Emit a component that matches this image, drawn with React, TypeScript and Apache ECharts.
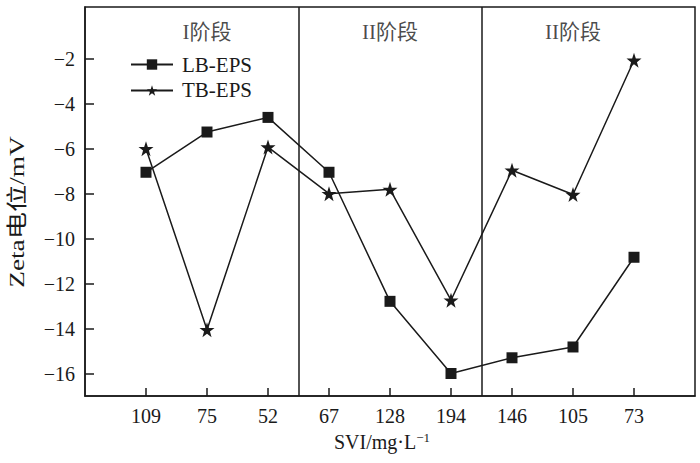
import React, { useEffect, useRef } from "react";
import * as echarts from "echarts";

const categories = ["109", "75", "52", "67", "128", "194", "146", "105", "73"];
const lbEps = [-7.05, -5.26, -4.61, -7.05, -12.79, -16.0, -15.3, -14.82, -10.83];
const tbEps = [-6.0, -14.05, -5.93, -8.0, -7.81, -12.74, -6.96, -8.04, -2.07];
const yTicks = [-16, -14, -12, -10, -8, -6, -4, -2];
const stageLabels = ["I阶段", "II阶段", "II阶段"];
const stageCenters = [2, 5, 8];
const stageBounds = [3.5, 6.5];

const STAR =
  "path://M50,0 L61.8,35.1 L98.1,35.1 L68.9,56.8 L79.4,91 L50,70 L20.6,91 L31.1,56.8 L1.9,35.1 L38.2,35.1 Z";
const FONT = "'Liberation Serif', 'Times New Roman', 'Noto Sans CJK SC', serif";
const INK = "#1a1a1a";

export default function App() {
  const ref = useRef<HTMLDivElement>(null);
  useEffect(() => {
    if (!ref.current) return;
    const chart = echarts.init(ref.current, null, { renderer: "svg" });
    const xs = categories.map((_, i) => i + 1);
    chart.setOption({
      animation: false,
      backgroundColor: "#ffffff",
      textStyle: { fontFamily: FONT, color: INK },
      grid: {
        left: 85,
        right: 5,
        top: 7,
        bottom: 67,
        show: true,
        borderColor: INK,
        borderWidth: 1.5,
      },
      legend: {
        orient: "vertical",
        left: 125,
        top: 49,
        itemWidth: 42,
        itemHeight: 13,
        itemGap: 5,
        textStyle: { fontFamily: FONT, fontSize: 21, color: INK, padding: [0, 0, 0, 4] },
        data: ["LB-EPS", "TB-EPS"],
      },
      graphic: [
        {
          type: "text",
          x: 17,
          y: 212,
          rotation: Math.PI / 2,
          scaleX: 1.3,
          style: {
            text: "Zeta电位/mV",
            font: `21px ${FONT}`,
            fill: INK,
            align: "center",
            verticalAlign: "middle",
          },
        },
        {
          type: "text",
          x: 382,
          y: 442,
          style: {
            text: "{a|SVI/mg·L}{s|−1}",
            align: "center",
            verticalAlign: "middle",
            rich: {
              a: { fontFamily: FONT, fontSize: 20, fill: INK },
              s: { fontFamily: FONT, fontSize: 13, fill: INK, verticalAlign: "top", padding: [0, 0, 10, 0] },
            },
          },
        },
      ],
      xAxis: {
        type: "value",
        min: 0,
        max: 10,
        axisLine: { show: true, onZero: false, lineStyle: { color: INK, width: 1.5 } },
        axisTick: { show: true, inside: true, length: 8, customValues: xs, lineStyle: { color: INK, width: 1.5 } },
        axisLabel: {
          customValues: xs,
          margin: 10,
          fontFamily: FONT,
          fontSize: 20,
          color: INK,
          formatter: (v: number) => categories[Math.round(v) - 1] ?? "",
        },
        splitLine: { show: false },
      },
      yAxis: {
        type: "value",
        min: -17,
        max: 0.3,
        axisLine: { show: true, onZero: false, lineStyle: { color: INK, width: 1.5 } },
        axisTick: { show: true, inside: true, length: 9, customValues: yTicks, lineStyle: { color: INK, width: 1.5 } },
        axisLabel: {
          customValues: yTicks,
          margin: 10,
          fontFamily: FONT,
          fontSize: 20,
          color: INK,
          formatter: (v: number) => (v < 0 ? "−" + Math.abs(v) : String(v)),
        },
        splitLine: { show: false },
      },
      series: [
        {
          name: "LB-EPS",
          type: "line",
          data: lbEps.map((v, i) => [xs[i], v]),
          symbol: "rect",
          symbolSize: 11,
          itemStyle: { color: INK },
          lineStyle: { color: INK, width: 1.5 },
          markLine: {
            silent: true,
            symbol: "none",
            label: { show: false },
            lineStyle: { color: INK, type: "solid", width: 1.5 },
            data: stageBounds.map((b) => ({ xAxis: b })),
          },
        },
        {
          name: "TB-EPS",
          type: "line",
          data: tbEps.map((v, i) => [xs[i], v]),
          symbol: STAR,
          symbolSize: 15,
          itemStyle: { color: INK },
          lineStyle: { color: INK, width: 1.5 },
        },
        {
          name: "stages",
          type: "scatter",
          data: stageCenters.map((c, i) => ({ value: [c, -0.8], label: { formatter: stageLabels[i] } })),
          symbolSize: 0,
          silent: true,
          label: {
            show: true,
            position: "inside",
            fontFamily: FONT,
            fontSize: 21,
            color: INK,
          },
        },
      ],
    });
    return () => chart.dispose();
  }, []);
  return <div ref={ref} style={{ width: 700, height: 463, position: "absolute", left: 0, top: 0 }} />;
}
